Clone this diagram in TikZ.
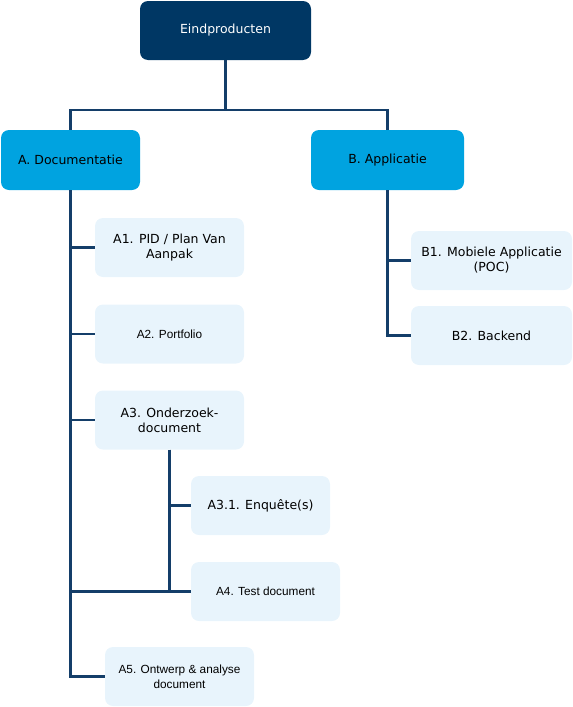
\documentclass[tikz,border=0pt]{standalone}
\usepackage{fontspec}
\setmainfont{DejaVu Sans}
\newfontfamily\arialfont{Liberation Sans}
\definecolor{navy}{RGB}{0,55,100}
\definecolor{skyblue}{RGB}{0,163,224}
\definecolor{paleblue}{RGB}{232,244,252}
\definecolor{linkblue}{RGB}{20,62,105}

\begin{document}
\begin{tikzpicture}[
  x=1pt, y=1pt,
  topbox/.style={rectangle, rounded corners=8pt, fill=navy, text=white, text centered, minimum width=171pt, minimum height=59pt, inner sep=0pt, font=\fontsize{12.5}{15}\selectfont},
  groupbox/.style={rectangle, rounded corners=8pt, fill=skyblue, text=black, text centered, minimum height=60pt, inner sep=0pt, font=\fontsize{12.5}{15}\selectfont},
  itembox/.style={rectangle, rounded corners=8pt, fill=paleblue, text=black, align=center, minimum width=149pt, minimum height=59pt, inner sep=0pt, font=\fontsize{12.5}{15}\selectfont},
  arialtext/.style={font=\arialfont\fontsize{11.8}{15}\selectfont},
  link/.style={draw=linkblue, line width=2.5pt}
]
\useasboundingbox (0,0) rectangle (573,-707);

% Top level
\node[topbox] (root) at (225.5,-30.5) {Eindproducten};
\coordinate (split) at (225.5,-110);

% Main groups
\node[groupbox, minimum width=139pt] (docs) at (70.5,-160) {A. Documentatie};
\node[groupbox, minimum width=153pt] (app) at (387.5,-160) {B. Applicatie};

% Documentatie items
\node[itembox] (pid) at (169.5,-247.5) {A1. PID / Plan Van\\Aanpak};
\node[itembox, arialtext] (portfolio) at (169.5,-334) {A2. Portfolio};
\node[itembox] (research) at (169.5,-420) {A3. Onderzoek-\\document};
\node[itembox, minimum width=139pt] (survey) at (260.5,-505.5) {A3.1. Enquête(s)};
\node[itembox, arialtext] (testdoc) at (265.5,-591.5) {A4. Test document};
\node[itembox, arialtext] (design) at (179.5,-676.5) {A5. Ontwerp \& analyse\\document};

% Applicatie items
\node[itembox, minimum width=161pt] (mobile) at (491.5,-260.5) {B1. Mobiele Applicatie\\(POC)};
\node[itembox, minimum width=161pt] (backend) at (491.5,-335.5) {B2. Backend};

% Connectors
\draw[link] (root.south) -- (split) -| (docs.north);
\draw[link] (split) -| (app.north);
\draw[link] (docs.south) |- (pid.west);
\draw[link] (docs.south) |- (portfolio.west);
\draw[link] (docs.south) |- (research.west);
\draw[link] (docs.south) |- (testdoc.west);
\draw[link] (docs.south) |- (design.west);
\draw[link] (research.south) |- (survey.west);
\draw[link] (research.south) |- (testdoc.west);
\draw[link] (app.south) |- (mobile.west);
\draw[link] (app.south) |- (backend.west);

\end{tikzpicture}
\end{document}
